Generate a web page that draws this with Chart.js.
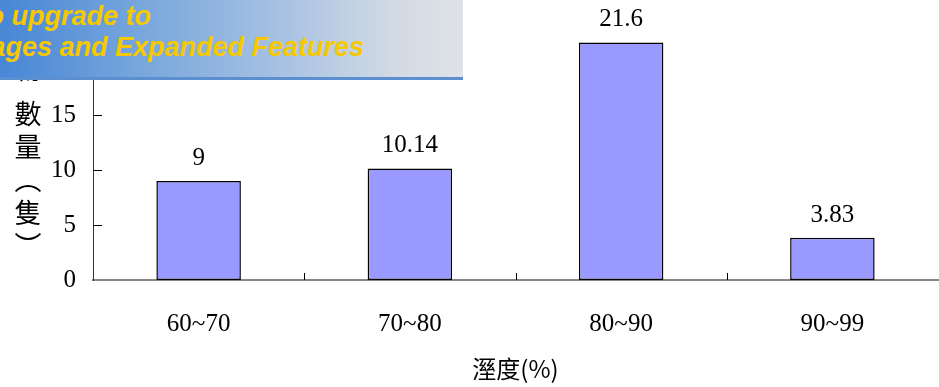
<!DOCTYPE html>
<html lang="zh-Hant">

<head>
    <meta charset="UTF-8">
    <meta name="viewport" content="width=device-width, initial-scale=1.0">
    <title>溼度與數量</title>
    <script src="https://cdn.jsdelivr.net/npm/chart.js"></script>
    <style>
        html, body {
            margin: 0;
            padding: 0;
            background: #fff;
        }

        #wrap {
            position: relative;
            width: 939px;
            height: 387px;
            overflow: hidden;
        }

        #humidityChart {
            position: absolute;
            left: 0;
            top: 0;
        }

        /* upgrade banner in the top-left corner */
        #banner {
            position: absolute;
            left: 0;
            top: 0;
            width: 463px;
            height: 77px;
            overflow: hidden;
            background: linear-gradient(to right, #4886d6 0%, #77a6dc 30%, #a6c1e2 60%, #d2dae5 85%, #dfe2e7 100%);
            border-bottom: 3px solid #5b8fd0;
            font-family: "Liberation Sans", Arial, sans-serif;
            font-weight: bold;
            font-style: italic;
            font-size: 27px;
            line-height: 27px;
            color: #f5c800;
        }

        #banner span {
            position: absolute;
            white-space: nowrap;
            text-align: right;
        }
    </style>
</head>

<body>
    <div id="wrap">
        <canvas id="humidityChart" width="939" height="387"></canvas>
        <div id="banner">
            <span style="right: 312px; top: 3px;">Click Here to upgrade to</span>
            <span style="right: 99px; top: 34px;">Unlimited Pages and Expanded Features</span>
        </div>
    </div>

    <script>
        const categories = ['60~70', '70~80', '80~90', '90~99'];
        const counts = [9, 10.14, 21.6, 3.83];
        const yTicks = [0, 5, 10, 15, 20, 25];
        const yTitleChars = ['動', '物', '數', '量', '︵', '隻', '︶'];
        const xTitle = '溼度(%)';

        const serif = '"Liberation Serif", "Times New Roman", serif';
        const cjk = '"Noto Sans CJK TC", sans-serif';

        // small tick marks drawn on the inner side of both axes
        const innerTicks = {
            id: 'innerTicks',
            afterDraw(chart) {
                const ctx = chart.ctx;
                const x = chart.scales.x;
                const y = chart.scales.y;
                ctx.save();
                ctx.strokeStyle = '#000';
                ctx.lineWidth = 1;
                ctx.beginPath();
                yTicks.forEach(v => {
                    if (v === 0) return;
                    const py = Math.round(y.getPixelForValue(v)) + 0.5;
                    ctx.moveTo(x.left, py);
                    ctx.lineTo(x.left + 9, py);
                });
                for (let i = 0; i < categories.length - 1; i++) {
                    const px = Math.round((x.getPixelForValue(i) + x.getPixelForValue(i + 1)) / 2) + 0.5;
                    ctx.moveTo(px, y.bottom);
                    ctx.lineTo(px, y.bottom - 7);
                }
                ctx.stroke();
                ctx.restore();
            }
        };

        // values written above the bars
        const barValues = {
            id: 'barValues',
            afterDatasetsDraw(chart) {
                const ctx = chart.ctx;
                const meta = chart.getDatasetMeta(0);
                ctx.save();
                ctx.font = '25px ' + serif;
                ctx.fillStyle = '#000';
                ctx.textAlign = 'center';
                ctx.textBaseline = 'alphabetic';
                meta.data.forEach((bar, i) => {
                    ctx.fillText(String(counts[i]), bar.x, bar.y - 16);
                });
                ctx.restore();
            }
        };

        // y axis title, one character per line
        const yTitle = {
            id: 'yTitle',
            afterDraw(chart) {
                const ctx = chart.ctx;
                ctx.save();
                ctx.font = '27px ' + cjk;
                ctx.fillStyle = '#000';
                ctx.textAlign = 'center';
                ctx.textBaseline = 'middle';
                yTitleChars.forEach((c, i) => {
                    // the first two characters sit a little higher
                    const gap = i < 2 ? 12 : 0;
                    ctx.fillText(c, 28, 114 + (i - 2) * 33 - gap);
                });
                ctx.restore();
            }
        };

        const ctx = document.getElementById('humidityChart').getContext('2d');
        new Chart(ctx, {
            type: 'bar',
            data: {
                labels: categories,
                datasets: [{
                    data: counts,
                    backgroundColor: '#9999ff',
                    borderColor: '#000',
                    borderWidth: 1.5,
                    borderSkipped: false,
                    categoryPercentage: 1,
                    barPercentage: 0.4
                }]
            },
            options: {
                responsive: false,
                animation: false,
                layout: {
                    padding: { top: 5, right: 1, left: 0, bottom: 0 }
                },
                plugins: {
                    legend: { display: false },
                    tooltip: { enabled: false }
                },
                scales: {
                    x: {
                        grid: { display: false, drawTicks: false },
                        border: { display: true, color: '#888', width: 2 },
                        ticks: {
                            color: '#000',
                            padding: 29,
                            font: { family: serif, size: 25 }
                        },
                        title: {
                            display: true,
                            text: xTitle,
                            color: '#000',
                            padding: { top: 0, bottom: 4 },
                            font: { family: cjk, size: 24 }
                        },
                        afterFit(scale) { scale.height = 107; }
                    },
                    y: {
                        min: 0,
                        max: 25,
                        grid: { display: false, drawTicks: false },
                        border: { display: true, color: '#333', width: 1 },
                        ticks: {
                            stepSize: 5,
                            color: '#000',
                            padding: 17,
                            font: { family: serif, size: 25 }
                        },
                        afterFit(scale) {
                            scale.width = 93;
                            scale.paddingTop = 0;
                            scale.paddingBottom = 0;
                        }
                    }
                }
            },
            plugins: [innerTicks, barValues, yTitle]
        });
    </script>
</body>

</html>
